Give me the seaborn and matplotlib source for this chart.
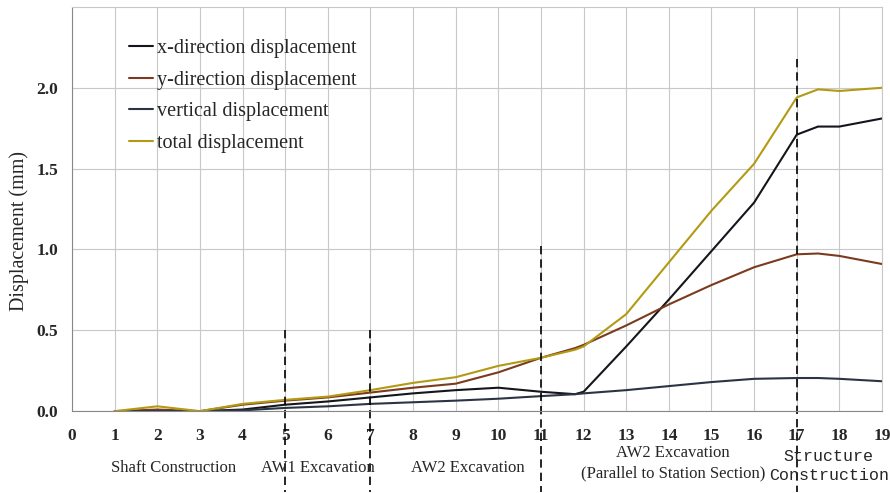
import pandas as pd
import matplotlib.pyplot as plt
import seaborn as sns

# construction step and displacement readings (mm)
steps = [1, 2, 3, 4, 5, 6, 7, 8, 9, 10, 11, 11.8, 12, 13, 14, 15, 16, 17, 17.5, 18, 19]
x_disp = [0, 0.0, 0, 0.01, 0.04, 0.06, 0.085, 0.11, 0.13, 0.145, 0.12, 0.105, 0.12,
          0.40, 0.69, 0.99, 1.29, 1.71, 1.76, 1.76, 1.81]
y_disp = [0, 0.01, 0, 0.04, 0.065, 0.085, 0.115, 0.145, 0.17, 0.24, 0.33, 0.39, 0.41,
          0.53, 0.66, 0.78, 0.89, 0.97, 0.975, 0.96, 0.91]
v_disp = [0, 0.0, 0, 0.005, 0.02, 0.03, 0.045, 0.055, 0.065, 0.077, 0.093, 0.105, 0.11,
          0.13, 0.155, 0.18, 0.2, 0.205, 0.205, 0.2, 0.185]
t_disp = [0, 0.03, 0, 0.045, 0.07, 0.09, 0.13, 0.175, 0.21, 0.28, 0.33, 0.38, 0.40,
          0.60, 0.92, 1.24, 1.53, 1.94, 1.99, 1.98, 2.0]

series_names = ["x-direction displacement", "y-direction displacement",
                "vertical displacement", "total displacement"]
colors = ["#15161c", "#7a3b1e", "#2c3444", "#b39a14"]

phase_lines = [(5, 0.5), (7, 0.5), (11, 1.02), (17, 2.18)]

df = pd.DataFrame({"step": steps * 4,
                   "disp": x_disp + y_disp + v_disp + t_disp,
                   "series": sum([[n] * len(steps) for n in series_names], [])})

sns.set_style("white")
plt.rcParams["font.family"] = ["Liberation Serif", "DejaVu Serif"]

fig = plt.figure(figsize=(8.9, 4.93), dpi=100)
ax = fig.add_axes([0.081, 0.166, 0.910, 0.820])

sns.lineplot(data=df, x="step", y="disp", hue="series", palette=colors,
             hue_order=series_names, linewidth=1.5, ax=ax)

ax.set_xlim(0, 19)
ax.set_ylim(0, 2.5)
ax.set_xticks(range(0, 20))
ax.set_yticks([0, 0.5, 1.0, 1.5, 2.0])
ax.set_yticklabels(["0.0", "0.5", "1.0", "1.5", "2.0"])
ax.grid(True, color="#c8c8c8", linewidth=0.8)
ax.set_axisbelow(True)
for s in ax.spines.values():
    s.set_color("#c8c8c8")
    s.set_linewidth(0.8)
ax.spines["left"].set_color("#888888")
ax.spines["bottom"].set_color("#888888")
ax.tick_params(axis="x", length=0, labelsize=12.5, pad=12)
ax.tick_params(axis="y", length=0, labelsize=12.5, pad=10)
for lab in ax.get_xticklabels() + ax.get_yticklabels():
    lab.set_fontweight("bold")
ax.set_xlabel("")
ax.set_ylabel("Displacement (mm)", fontsize=14.5)
ax.yaxis.set_label_coords(-0.053, 0.445)

# stage boundaries
for xs, ytop in phase_lines:
    ax.plot([xs, xs], [ytop, -0.5], color="black", linestyle=(0, (5, 3)),
            linewidth=1.2, clip_on=False)

ax.text(2.38, -0.35, "Shaft Construction", ha="center", va="center", fontsize=12)
ax.text(5.76, -0.35, "AW1 Excavation", ha="center", va="center", fontsize=12)
ax.text(9.29, -0.35, "AW2 Excavation", ha="center", va="center", fontsize=12)
ax.text(14.1, -0.32, "AW2 Excavation\n(Parallel to Station Section)", ha="center",
        va="center", fontsize=12, linespacing=1.35)
ax.text(17.75, -0.34, "Structure\nConstruction", ha="center", va="center",
        fontsize=12, family="Liberation Mono", linespacing=1.35)

ax.legend(loc="upper left", bbox_to_anchor=(0.048, 0.965), frameon=False,
          fontsize=14.5, handlelength=1.2, handletextpad=0.2, labelspacing=0.62)

plt.savefig("out.png", dpi=100)
plt.close()
